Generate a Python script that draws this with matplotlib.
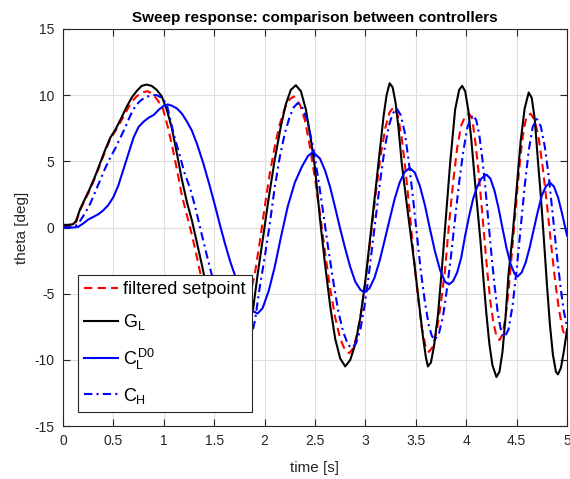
import matplotlib
matplotlib.use('Agg')
import matplotlib.pyplot as plt

# filtered setpoint (red dashed)
t_ref = [0, 0.05, 0.1, 0.13, 0.17, 0.22, 0.27, 0.32, 0.37, 0.42,
         0.47, 0.52, 0.58, 0.63, 0.68, 0.73, 0.78, 0.84, 0.89, 0.94,
         0.99, 1.04, 1.09, 1.14, 1.18, 1.23, 1.28, 1.33, 1.38, 1.43,
         1.5, 1.58, 1.66, 1.74, 1.8, 1.86, 1.905, 1.95, 2.0, 2.05,
         2.1, 2.15, 2.2, 2.25, 2.29, 2.35, 2.4, 2.45, 2.5, 2.55,
         2.6, 2.65, 2.7, 2.75, 2.8, 2.84, 2.88, 2.92, 2.96, 3.0,
         3.05, 3.1, 3.15, 3.2, 3.24, 3.28, 3.32, 3.36, 3.4, 3.44,
         3.48, 3.52, 3.56, 3.6, 3.63, 3.67, 3.71, 3.75, 3.79, 3.83,
         3.87, 3.91, 3.95, 3.99, 4.03, 4.06, 4.09, 4.12, 4.15, 4.18,
         4.21, 4.24, 4.27, 4.3, 4.33, 4.36, 4.39, 4.42, 4.45, 4.48,
         4.51, 4.54, 4.57, 4.6, 4.64, 4.68, 4.72, 4.76, 4.8, 4.84,
         4.88, 4.92, 4.96, 5.0]
ref = [0.1, 0.1, 0.2, 0.4, 1.3, 2.1, 2.9, 3.8, 4.8, 5.8,
       6.7, 7.3, 8.1, 8.8, 9.5, 9.9, 10.2, 10.3, 10.1, 9.6,
       9.0, 7.6, 5.9, 4.0, 2.4, 0.9, -0.6, -2.3, -4.1, -5.9,
       -7.8, -9.0, -9.3, -8.6, -7.2, -5.0, -3.4, -1.2, 1.5, 4.0,
       6.1, 7.8, 9.0, 9.7, 9.9, 9.3, 8.1, 6.1, 3.7, 1.0,
       -1.9, -4.6, -6.8, -8.4, -9.3, -9.5, -9.1, -8.0, -6.3, -4.1,
       -0.9, 2.4, 5.4, 7.6, 8.7, 9.1, 8.5, 6.8, 4.2, 1.1,
       -2.2, -5.2, -7.6, -9.1, -9.4, -9.0, -7.7, -5.7, -3.2, 0.3,
       3.4, 6.0, 7.7, 8.4, 8.6, 8.2, 6.5, 4.4, 1.9, -0.8,
       -3.4, -5.6, -7.2, -8.2, -8.5, -8.1, -6.8, -4.8, -2.2, 0.5,
       3.1, 5.5, 7.4, 8.4, 8.6, 8.1, 6.7, 4.5, 1.8, -1.1,
       -3.9, -6.2, -7.8, -8.5]

# G_L (black solid)
t_gl = [0, 0.05, 0.1, 0.13, 0.17, 0.22, 0.27, 0.32, 0.37, 0.42,
        0.47, 0.52, 0.58, 0.63, 0.68, 0.73, 0.78, 0.83, 0.88, 0.93,
        0.98, 1.03, 1.08, 1.13, 1.18, 1.23, 1.28, 1.33, 1.38, 1.43,
        1.48, 1.55, 1.62, 1.7, 1.78, 1.84, 1.885, 1.93, 1.98, 2.04,
        2.1, 2.16, 2.21, 2.26, 2.31, 2.36, 2.41, 2.46, 2.5, 2.55,
        2.6, 2.65, 2.7, 2.75, 2.8, 2.85, 2.9, 2.95, 3.0, 3.05,
        3.1, 3.14, 3.18, 3.21, 3.24, 3.27, 3.3, 3.33, 3.36, 3.4,
        3.45, 3.49, 3.53, 3.57, 3.6, 3.62, 3.65, 3.68, 3.72, 3.76,
        3.8, 3.84, 3.89, 3.93, 3.96, 3.99, 4.02, 4.05, 4.09, 4.14,
        4.17, 4.2, 4.23, 4.26, 4.3, 4.33, 4.36, 4.39, 4.42, 4.46,
        4.5, 4.54, 4.58, 4.62, 4.65, 4.68, 4.71, 4.74, 4.77, 4.8,
        4.83, 4.86, 4.89, 4.91, 4.94, 4.97, 5.0]
gl = [0.2, 0.2, 0.25, 0.5, 1.4, 2.2, 3.0, 3.9, 4.9, 5.9,
      6.8, 7.4, 8.3, 9.1, 9.8, 10.3, 10.7, 10.8, 10.7, 10.4,
      9.9, 8.9, 7.5, 5.6, 3.6, 1.9, 0.5, -1.2, -2.9, -4.7,
      -6.2, -7.9, -9.0, -9.4, -8.8, -7.5, -6.2, -3.6, -1.0, 2.2,
      5.1, 7.6, 9.3, 10.4, 10.75, 10.3, 8.9, 6.6, 4.5, 0.6,
      -2.8, -5.9, -8.4, -9.9, -10.5, -10.0, -8.8, -6.8, -4.0, -0.6,
      2.8, 5.6, 8.4, 10.0, 10.9, 10.6, 9.4, 7.4, 4.9, 2.4,
      -0.6, -3.0, -5.6, -8.2, -9.8, -10.5, -10.2, -9.0, -6.6, -3.0,
      0.9, 4.8, 8.9, 10.4, 10.7, 10.3, 8.9, 6.7, 3.2, -0.9,
      -3.8, -6.5, -8.8, -10.4, -11.3, -10.9, -9.4, -6.8, -3.5, -0.6,
      2.9, 6.5, 9.0, 10.2, 9.8, 8.2, 5.2, 2.4, -0.8, -4.2,
      -7.3, -9.6, -10.9, -11.1, -10.6, -9.3, -7.7]

# C_L^D0 (blue solid)
t_cl = [0, 0.05, 0.1, 0.15, 0.2, 0.25, 0.3, 0.35, 0.4, 0.45,
        0.5, 0.55, 0.6, 0.65, 0.7, 0.75, 0.8, 0.85, 0.9, 0.95,
        1.0, 1.04, 1.08, 1.13, 1.18, 1.23, 1.28, 1.33, 1.39, 1.45,
        1.51, 1.56, 1.61, 1.66, 1.71, 1.77, 1.83, 1.88, 1.93, 1.98,
        2.04, 2.1, 2.16, 2.23, 2.3, 2.37, 2.43, 2.48, 2.55, 2.6,
        2.65, 2.7, 2.75, 2.8, 2.85, 2.9, 2.95, 2.99, 3.04, 3.09,
        3.14, 3.19, 3.24, 3.29, 3.34, 3.39, 3.44, 3.49, 3.54, 3.59,
        3.64, 3.69, 3.74, 3.79, 3.83, 3.87, 3.91, 3.95, 3.99, 4.03,
        4.07, 4.11, 4.15, 4.2, 4.24, 4.28, 4.32, 4.36, 4.4, 4.44,
        4.48, 4.51, 4.55, 4.59, 4.63, 4.67, 4.71, 4.75, 4.79, 4.83,
        4.87, 4.91, 4.95, 5.0]
cl = [0, 0, 0, 0.05, 0.3, 0.6, 0.8, 1.0, 1.3, 1.7,
      2.3, 3.2, 4.4, 5.6, 6.8, 7.6, 8.0, 8.3, 8.5, 8.9,
      9.2, 9.3, 9.2, 9.0, 8.6, 8.0, 7.3, 6.3, 4.9, 3.3,
      1.6, 0.1, -1.3, -2.6, -3.7, -4.9, -5.8, -6.3, -6.5, -6.1,
      -4.8, -3.0, -0.8, 1.6, 3.4, 4.6, 5.4, 5.7, 5.2, 4.3,
      3.05, 1.5, -0.1, -1.6, -3.0, -4.1, -4.7, -4.9, -4.6, -3.8,
      -2.55, -1.0, 0.6, 2.15, 3.4, 4.2, 4.5, 4.15, 3.15, 1.7,
      -0.1, -1.8, -3.2, -4.1, -4.3, -4.05, -3.4, -2.3, -0.6, 0.9,
      2.2, 3.1, 3.7, 4.0, 3.7, 2.8, 1.5, -0.05, -1.55, -2.75,
      -3.5, -3.7, -3.4, -2.65, -1.5, -0.15, 1.2, 2.4, 3.1, 3.4,
      3.1, 2.3, 1.1, -0.6]

# C_H (blue dash-dot)
t_ch = [0, 0.05, 0.1, 0.13, 0.17, 0.22, 0.27, 0.32, 0.37, 0.42,
        0.47, 0.52, 0.57, 0.62, 0.67, 0.72, 0.77, 0.82, 0.88, 0.93,
        0.98, 1.03, 1.06, 1.1, 1.16, 1.21, 1.26, 1.31, 1.36, 1.42,
        1.48, 1.55, 1.62, 1.7, 1.77, 1.83, 1.885, 1.905, 1.95, 2.0,
        2.05, 2.1, 2.15, 2.2, 2.25, 2.29, 2.33, 2.38, 2.43, 2.48,
        2.53, 2.58, 2.63, 2.68, 2.73, 2.78, 2.83, 2.87, 2.91, 2.95,
        2.99, 3.03, 3.07, 3.11, 3.15, 3.19, 3.23, 3.27, 3.31, 3.35,
        3.39, 3.43, 3.47, 3.51, 3.55, 3.59, 3.63, 3.66, 3.69, 3.73,
        3.77, 3.81, 3.85, 3.89, 3.93, 3.97, 4.01, 4.04, 4.07, 4.1,
        4.13, 4.16, 4.19, 4.22, 4.25, 4.28, 4.31, 4.34, 4.38, 4.42,
        4.46, 4.5, 4.54, 4.58, 4.62, 4.66, 4.7, 4.74, 4.78, 4.82,
        4.86, 4.9, 4.94, 4.97, 5.0]
ch = [0, 0, 0.05, 0.15, 0.5, 1.1, 1.8, 2.7, 3.6, 4.5,
      5.3, 6.0, 6.8, 7.6, 8.5, 9.2, 9.6, 9.85, 10.0, 10.0,
      9.8, 9.3, 8.3, 7.0, 5.4, 4.0, 3.0, 1.6, 0.0, -1.9,
      -3.7, -5.8, -7.6, -8.8, -9.2, -8.9, -7.7, -7.0, -4.6, -2.3,
      0.2, 3.0, 5.3, 7.1, 8.4, 9.1, 9.4, 9.0, 7.9, 6.1,
      3.8, 1.2, -1.5, -4.0, -6.3, -7.9, -8.9, -9.1, -8.7, -7.7,
      -6.0, -3.8, -1.3, 1.2, 3.7, 5.9, 7.6, 8.6, 9.0, 8.5,
      7.2, 5.0, 2.4, -0.5, -3.3, -5.6, -7.45, -8.2, -8.5, -8.0,
      -6.7, -4.6, -2.1, 0.7, 3.4, 5.7, 7.5, 8.2, 8.5, 8.1,
      7.0, 5.2, 3.0, 0.5, -2.0, -4.3, -6.25, -7.6, -8.3, -7.7,
      -5.9, -3.2, -0.05, 3.1, 5.8, 7.6, 8.2, 7.65, 6.1, 3.8,
      0.85, -2.1, -4.75, -6.4, -7.45]

labels = ['filtered setpoint', '$G_L$', '$C_L^{D0}$', '$C_H$']
xticks = [0, 0.5, 1, 1.5, 2, 2.5, 3, 3.5, 4, 4.5, 5]
yticks = [-15, -10, -5, 0, 5, 10, 15]

plt.rcParams['font.family'] = ['Liberation Sans', 'DejaVu Sans']
plt.rcParams['mathtext.fontset'] = 'custom'
plt.rcParams['mathtext.rm'] = 'Liberation Sans'
plt.rcParams['mathtext.it'] = 'Liberation Sans'
plt.rcParams['mathtext.bf'] = 'Liberation Sans:bold'
plt.rcParams['axes.unicode_minus'] = False

axcol = '#262626'
fig = plt.figure(figsize=(5.7, 4.79), dpi=100)
ax = fig.add_axes([63 / 570, 1 - 426 / 479, 504 / 570, 397 / 479])

ax.plot(t_ref, ref, color='r', lw=1.5, dashes=(4, 2.5), label=labels[0])
ax.plot(t_gl, gl, color='k', lw=1.5, label=labels[1])
ax.plot(t_cl, cl, color='b', lw=1.5, label=labels[2])
ax.plot(t_ch, ch, color='b', lw=1.5, dashes=(4, 2, 1, 2), label=labels[3])

ax.set_xlim(0, 5)
ax.set_ylim(-15, 15)
ax.set_xticks(xticks)
ax.set_xticklabels(['0', '0.5', '1', '1.5', '2', '2.5', '3', '3.5', '4', '4.5', '5'])
ax.set_yticks(yticks)
ax.grid(True, color='#dedede', lw=0.8)
ax.set_axisbelow(True)
ax.tick_params(direction='in', top=True, right=True, length=5, width=0.8,
               colors=axcol, labelsize=10, pad=6)
for sp in ax.spines.values():
    sp.set_color(axcol)
    sp.set_linewidth(0.8)

ax.set_title('Sweep response: comparison between controllers',
             fontsize=11, fontweight='bold', pad=5)
ax.set_xlabel('time [s]', fontsize=11, color=axcol, labelpad=9)
ax.set_ylabel('theta [deg]', fontsize=11, color=axcol, labelpad=4)

leg = ax.legend(loc='lower left', bbox_to_anchor=(15 / 504, 14 / 397),
                borderaxespad=0, fontsize=13, handlelength=1.85,
                handletextpad=0.3, borderpad=0.35, labelspacing=0.78,
                fancybox=False, framealpha=1, edgecolor=axcol)
leg.get_frame().set_linewidth(0.8)

fig.savefig('out.png', dpi=100)
